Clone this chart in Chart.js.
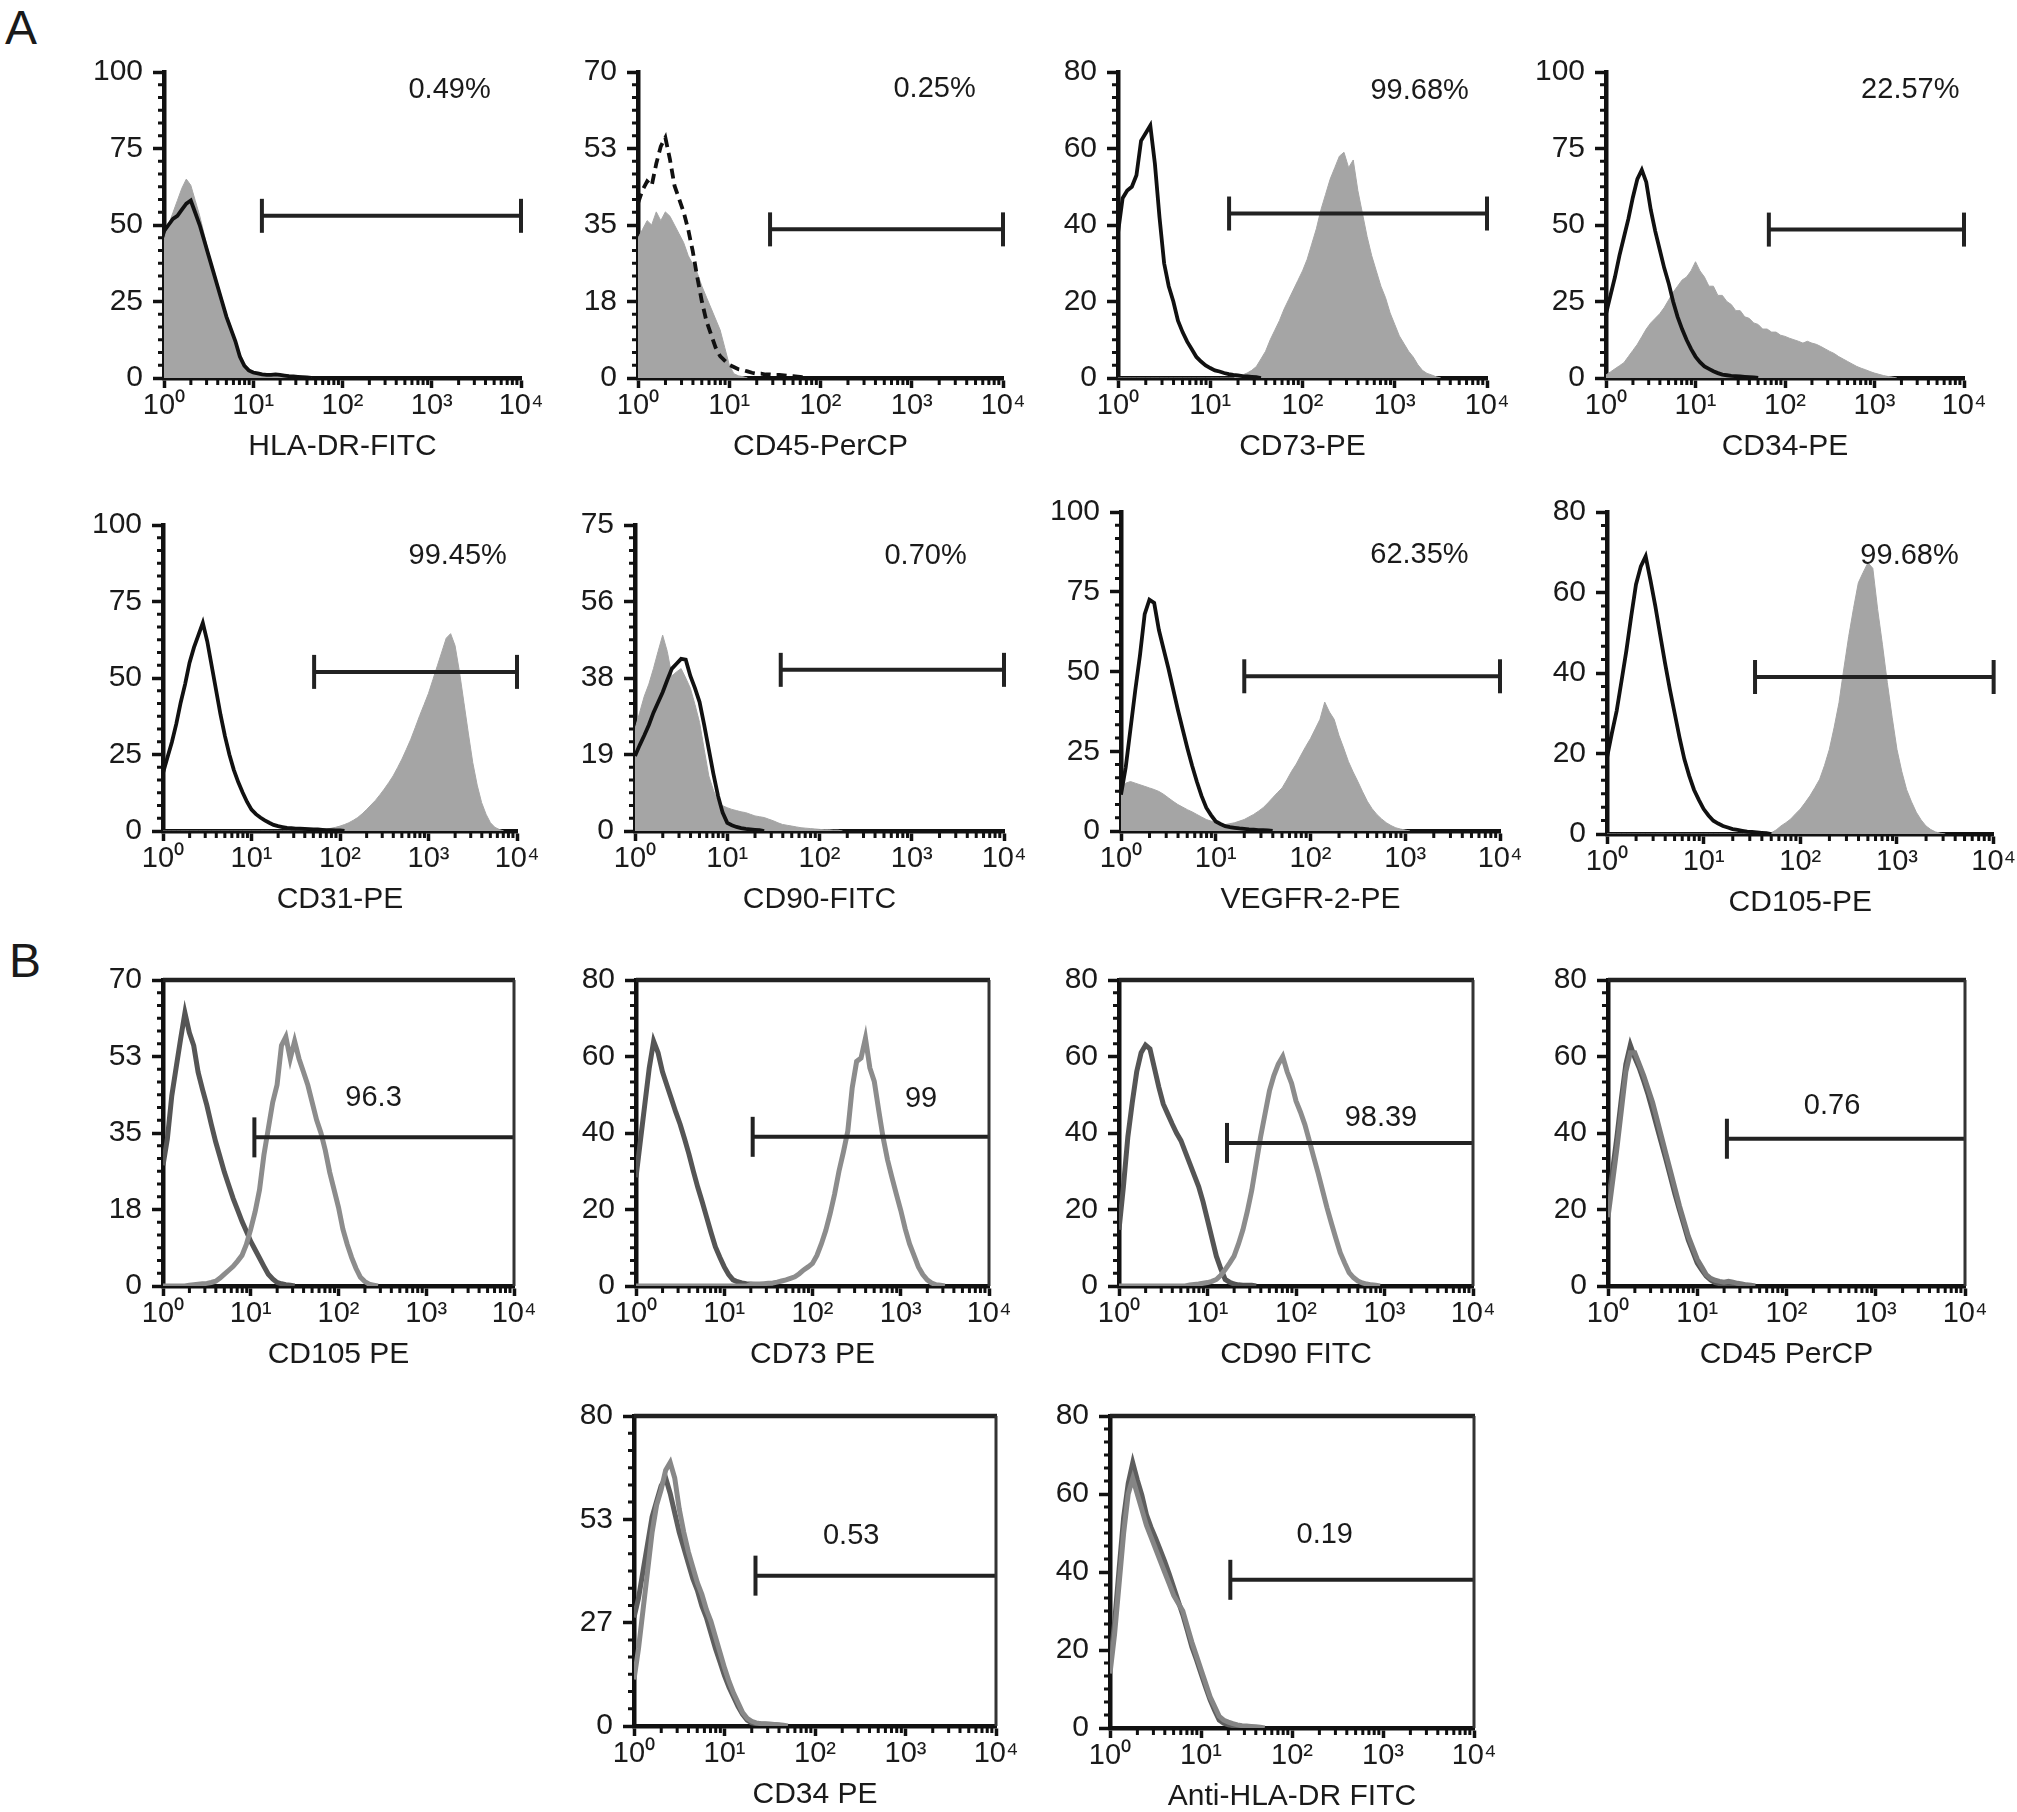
<!DOCTYPE html>
<html>
<head>
<meta charset="utf-8">
<title>Flow cytometry histograms</title>
<script src="https://cdn.jsdelivr.net/npm/chart.js@4.4.1/dist/chart.umd.min.js"></script>
<style>
  html, body { margin: 0; padding: 0; background: #fff; overflow: hidden; }
  body { width: 2017px; height: 1812px; position: relative; font-family: 'Liberation Sans', Arial, sans-serif; }
  .letter { position: absolute; font-size: 48px; line-height: 1; color: #1a1a1a; }
  canvas { position: absolute; }
</style>
</head>
<body>
<div class="letter" style="left:5px; top:4px;">A</div>
<div class="letter" style="left:9px; top:937px;">B</div>
<script>
// fluorescence channels (log spaced, 20 per decade)
const xGrid = [1, 1.122, 1.259, 1.413, 1.585, 1.778, 1.995, 2.239, 2.512, 2.818,
  3.162, 3.548, 3.981, 4.467, 5.012, 5.623, 6.31, 7.079, 7.943, 8.913,
  10, 11.22, 12.59, 14.13, 15.85, 17.78, 19.95, 22.39, 25.12, 28.18,
  31.62, 35.48, 39.81, 44.67, 50.12, 56.23, 63.1, 70.79, 79.43, 89.13,
  100, 112.2, 125.9, 141.3, 158.5, 177.8, 199.5, 223.9, 251.2, 281.8,
  316.2, 354.8, 398.1, 446.7, 501.2, 562.3, 631, 707.9, 794.3, 891.3,
  1000, 1122, 1259, 1413, 1585, 1778, 1995, 2239, 2512, 2818,
  3162, 3548, 3981, 4467, 5012, 5623, 6310, 7079, 7943, 8913, 10000];
const xTickValues = [1, 10, 100, 1000, 10000];
const xTickLabels = ['10⁰', '10¹', '10²', '10³', '10⁴'];

const ticks100 = [0, 25, 50, 75, 100];
const ticks80 = [0, 20, 40, 60, 80];
const ticks75 = [0, 19, 38, 56, 75];
const ticks70 = [0, 18, 35, 53, 70];
const ticks80b = [0, 27, 53, 80];

// panel A: isotype (black line) and stained cells (grey fill)
const hlaDrIsoA = [48,50,52,53,55,57,58,54,50,45, 40,35,30,25,20,16,12,7,4,2.5,
  1.8,1.5,1.2,1,1,1.2,1,0.8,0.6,0.5, 0.4,0.3,0.2,0];
const hlaDrCellsA = [45,50,54,58,62,65,63,58,53,47, 41,36,31,26,21,17,12,8,5,3,
  2,1.5,1.2,1,1.1,1.3,1.1,0.9,0.7,0.5, 0.4,0.3,0.2,0];
const cd45IsoA = [40,43,45,44,49,53,55,50,44,41, 38,34,29,23,17.5,13,10,7,5,4,
  3,2.5,2,1.8,1.5,1.2,1,1,0.8,0.8, 0.7,0.7,0.6,0.5,0.4,0.3,0.2,0];
const cd45CellsA = [32,34,36,35,38,36,38,37,35,33, 31,28,26,24,21,18.5,16,13.5,11,7,
  3,1,0.5,0.3,0];
const cd73IsoA = [38,47,49,50,53,62,64,66,56,42, 30,24,20,15,12,9.5,7.5,5.5,4.3,3.3,
  2.6,2,1.7,1.3,1,0.8,0.7,0.5,0.4,0.3, 0.2,0];
const cd73CellsA = [0,0,0,0,0,0,0,0,0,0, 0,0,0,0,0,0,0,0,0,0,
  0,0,0,0,0,0,0.3,0.8,1.3,2, 3,5,7,10,12.5,15,18,20.5,23,25.5,
  28,31,35,39,44,48,52,55,58,59, 55,57,49,43,37,32,28,24,21,17,
  14,11,9,7,5.5,3.5,2,1.2,0.8,0.3, 0];
const cd34IsoA = [21,27,33,40,46,52,59,65,68,64, 55,48,42,36,31,25,20,16,12.5,9.5,
  7,5.2,3.8,3,2.2,1.6,1.1,0.9,0.7,0.6, 0.5,0.4,0.3,0.2,0];
const cd34CellsA = [1,2,3,4,5,7,9,11,13.5,16, 18,19.5,21,23,25.5,28,30,32,33,35,
  38,35,33,30,30,27,27,25,24,22, 22,20,19.5,18,17.5,16,16,15,15,14,
  13.6,13,12.5,12,11.4,12,11.4,11,10.3,9.5, 8.7,8,7,6.2,5.4,4.6,3.8,3.2,2.7,2.1,
  1.6,1.2,0.8,0.5,0.3,0];
const cd31IsoA = [19,24,29,35,42,48,55,60,64,68, 62,54,46,38,31,25,20,16,12.6,9.5,
  7,5.5,4.4,3.5,2.7,2,1.6,1.3,1,0.9, 0.8,0.8,0.7,0.6,0.5,0.5,0.4,0.3,0.3,0.2,
  0.2,0];
const cd31CellsA = [0,0,0,0,0,0,0,0,0,0, 0,0,0,0,0,0,0,0,0,0,
  0,0,0,0,0,0,0,0,0,0, 0,0,0,0,0,0,0.3,0.6,0.9,1.2,
  1.6,2.1,2.7,3.5,4.4,5.6,7,8.5,10,11.8, 13.7,15.8,18,20.7,23.5,26.7,30,33.8,37.7,41.3,
  45,49.5,54,58.5,63,64.5,60.6,52,42,32, 22.4,15,9.3,5.5,2.7,1.2,0.5,0];
const cd90IsoA = [18.4,21,23.4,26,29,31.5,34,37,39.8,41, 42.2,42,38,35,31.6,26,20,14,8.6,4.5,
  2,1.4,1,0.7,0.5,0.4,0.3,0.2,0];
const cd90CellsA = [25,29,33,36,39.8,44,48,44,38,39, 39.8,37.5,35,31,26.6,20,13.5,10,7,6.2,
  5.7,5.3,5,4.7,4.5,4.1,3.7,3.5,3.3,2.9, 2.5,2,1.6,1.4,1.2,1,0.8,0.7,0.6,0.5,
  0.4,0.3,0.3,0.2,0.2,0];
const vegfr2IsoA = [11.4,20,32,44,55,68,72.5,71.5,63,57, 51,44.5,38,32,26,20.5,15.5,11,7.3,5,
  3,2.2,1.5,1.2,1,0.8,0.7,0.5,0.4,0.3, 0.3,0.2,0];
const vegfr2CellsA = [13.5,15,15.5,15,14.5,14,13.5,13,12.4,11.5, 10.4,9.3,8.3,7.5,6.7,6,5.2,4.4,3.6,3.1,
  2.6,2.3,2,2.3,2.6,3.1,3.6,4.4,5.2,6.2, 7.3,8.8,10.4,12,13.5,16,18.7,21,23.8,26.5,
  29,32,35,40.4,37.3,35,30,26,21.8,18.5, 15.5,12.3,9.3,7,5.2,3.8,2.6,1.7,1,0.6,
  0.3,0];
const cd105IsoA = [19,25,30.6,38,45.5,54,62,66.5,69,63, 56.6,49.5,42.5,36,30,24,18.6,14.5,11,8.5,
  6.2,4.6,3.3,2.6,2,1.6,1.2,1,0.8,0.6, 0.5,0.4,0.3,0.2,0];
const cd105CellsA = [0,0,0,0,0,0,0,0,0,0, 0,0,0,0,0,0,0,0,0,0,
  0,0,0,0,0,0,0,0,0,0, 0,0,0,0,0.3,1,2,2.8,3.7,5,
  6.2,7.8,9.5,11.5,13.6,17,21,26.5,32.6,41, 49,56,62.4,65,67.4,66,55.8,47,37.6,29,
  21,15.5,11,8,5.4,3.5,2,1.1,0.5,0.2, 0];

// panel B: control (dark line) and marker (light line)
const cd105IsoB = [27.6,33.7,43.5,50,56.4,62.5,58,55,48.9,45, 41.3,37,33,29.5,26,23,20,17.4,14.8,12.5,
  10.2,8.3,6.4,4.5,2.7,1.6,0.8,0.5,0.3,0.2, 0];
const cd105CellsB = [0,0,0,0,0,0,0.2,0.3,0.4,0.5, 0.6,0.8,1.1,1.8,2.7,3.6,4.5,5.7,7,9.5,
  13,17,22,30,36,42,46,55,57,52, 56,52,49,46,42,38,35,31,26,22,
  18,13,9.5,6.5,4,2,1,0.4,0.2,0];
const cd73IsoB = [28.4,38,47.5,57,64,61,56,52.5,49,45.5, 42.3,38.5,34.5,30,25.8,22,18,14,10.2,7.5,
  5,3,1.6,1.1,0.8,0.6,0.5,0.4,0.3,0.3, 0.2,0];
const cd73CellsB = [0,0,0,0,0,0,0,0,0,0, 0,0,0,0,0,0,0,0,0,0,
  0,0,0,0,0,0,0.4,0.5,0.5,0.6, 0.7,0.8,1,1.3,1.6,2,2.4,3.2,4.2,5,
  5.9,8,11,14.5,18.9,24,30,35,40.5,51.8, 58.7,59.6,64.8,57,53.5,46,38.8,33,28.4,24,
  19.8,15,11,8,5,3,1.6,0.8,0.3,0.2, 0];
const cd90IsoB = [14.7,26,39,48,56,61,63,62,57,52, 47.6,45,42.4,40,38,35,32,29,26,22,
  17.3,12.5,7.8,4.5,1.7,1,0.5,0.3,0.2,0.2, 0.2,0];
const cd90CellsB = [0,0,0,0,0,0,0,0,0,0, 0,0,0,0,0,0,0.3,0.4,0.5,0.7,
  0.9,1.2,1.7,2.8,4.3,6,7.8,11,14.7,19.5, 25,32,39,45,51,55,58,60,56,53,
  48.4,45.5,42.2,38,33.7,29.5,25,20.5,16.4,12.5, 8.7,6,3.5,2.2,1.3,0.8,0.5,0.3,0.2,0];
const cd45IsoB = [21.6,30,39,49,58,63,59.7,57,53.6,50, 45.8,41.5,37.2,33,28.5,24,19.9,16,12,9,
  6,4.2,2.6,1.6,0.9,0.6,0.5,0.4,0.3,0.2, 0];
const cd45CellsB = [18,27,36,46,56,61,61,58,55,51.5, 48,43.5,39,34.5,30,25.5,21,17,13,10,
  7,5,3,2,1.5,1.2,1,1.2,1,0.7, 0.5,0.3,0.2,0];
const cd34IsoB = [28,33,40,47,54,58,62,64,60,55, 50,46,42,38,35,31,28,24,20,16.5,
  13,10,7.5,5,3,1.5,0.8,0.6,0.5,0.5, 0.4,0.3,0.2,0];
const cd34CellsB = [12,20,30,40,50,57,61,66,68,64, 56,50,45,41,37,34,30,27,23,19,
  15,11.5,8.5,6,3.5,2,1.2,0.8,0.6,0.5, 0.5,0.4,0.3,0.2,0];
const hlaDrIsoB = [16,27,40.7,54,62.7,68,63.6,59.7,54.7,51.5, 48.7,45.8,42.8,39.5,36,32.5,29,25,20.8,17.5,
  14,10.5,7.2,4.5,2,1.2,0.8,0.6,0.5,0.4, 0.3,0.2,0];
const hlaDrCellsB = [14,24,37,50,60,64,60,56,52,49, 46,43,40,37,34,32,30,26,22,18.5,
  15,11.5,8,5.5,3,2,1.5,1.1,0.8,0.6, 0.5,0.4,0.3,0.2,0];

const titles = ['HLA-DR-FITC', 'CD45-PerCP', 'CD73-PE', 'CD34-PE', 'CD31-PE', 'CD90-FITC', 'VEGFR-2-PE', 'CD105-PE',
  'CD105 PE', 'CD73 PE', 'CD90 FITC', 'CD45 PerCP', 'CD34 PE', 'Anti-HLA-DR FITC'];
const percents = ['0.49%', '0.25%', '99.68%', '22.57%', '99.45%', '0.70%', '62.35%', '99.68%',
  '96.3', '99', '98.39', '0.76', '0.53', '0.19'];
const percentAtX = [1585, 1778, 1862, 2512, 2138, 1413, 1413, 1349, 251, 1700, 912, 324, 251, 229];
const percentAtY = [94, 66, 75, 94, 90, 67.5, 86.4, 69, 43, 49, 44, 47, 49, 49.5];
const gateFrom = [12.5, 28, 16, 66, 51, 38, 20, 34, 11, 21, 16.6, 21.5, 22, 21];
const gateLevel = [53, 34, 43, 48.5, 52, 39.5, 48.5, 39, 34, 39, 37.4, 38.5, 38.8, 38];
const yTickSets = [ticks100, ticks70, ticks80, ticks100, ticks100, ticks75, ticks100, ticks80,
  ticks70, ticks80, ticks80, ticks80, ticks80b, ticks80];
const controls = [hlaDrIsoA, cd45IsoA, cd73IsoA, cd34IsoA, cd31IsoA, cd90IsoA, vegfr2IsoA, cd105IsoA,
  cd105IsoB, cd73IsoB, cd90IsoB, cd45IsoB, cd34IsoB, hlaDrIsoB];
const samples = [hlaDrCellsA, cd45CellsA, cd73CellsA, cd34CellsA, cd31CellsA, cd90CellsA, vegfr2CellsA, cd105CellsA,
  cd105CellsB, cd73CellsB, cd90CellsB, cd45CellsB, cd34CellsB, hlaDrCellsB];

// plot area of each panel on the page: left, right, top, bottom
const boxes = [
  [164, 521, 68, 378], [638, 1003, 68, 378], [1118, 1487, 68, 378], [1606, 1964, 68, 378],
  [163, 517, 521, 831], [635, 1004, 521, 831], [1121, 1500, 508, 831], [1607, 1996, 508, 834],
  [163, 514, 976, 1286], [636, 989, 976, 1286], [1119, 1473, 976, 1286], [1608, 1965, 976, 1286],
  [634, 996, 1412, 1726], [1110, 1474, 1412, 1728]
];
const controlDash = [[], [10, 6], [], [], [], [], [], []];
const bColors = [['#555', '#8c8c8c'], ['#555', '#8c8c8c'], ['#555', '#8c8c8c'],
  ['#575757', '#7a7a7a'], ['#5e5e5e', '#888'], ['#5e5e5e', '#858585']];

const Y_W = 80, PAD_T = 24, PAD_R = 36, X_H = 87;
const FONT = "'Liberation Sans', Arial, sans-serif";
Chart.defaults.font.family = FONT;
Chart.defaults.color = '#1a1a1a';

const toPoints = (values) => values.map((v, i) => ({ x: xGrid[i], y: v }));

// minor ticks, frame of panel B and the percentage label
const decor = {
  id: 'decor',
  afterDraw(chart, args, opts) {
    const { ctx, chartArea: a, scales: { x, y } } = chart;
    ctx.save();
    ctx.strokeStyle = '#111';
    ctx.lineWidth = 3;
    ctx.beginPath();
    for (let d = 1; d < 10000; d *= 10) {
      for (let k = 2; k < 10; k++) {
        const px = x.getPixelForValue(k * d);
        ctx.moveTo(px, a.bottom);
        ctx.lineTo(px, a.bottom + 7);
      }
    }
    const yt = y.ticks;
    for (let i = 0; i < yt.length - 1; i++) {
      for (let j = 1; j < 6; j++) {
        const py = y.getPixelForValue(yt[i].value + (yt[i + 1].value - yt[i].value) * j / 6);
        ctx.moveTo(a.left - 6, py);
        ctx.lineTo(a.left, py);
      }
    }
    ctx.stroke();
    if (opts.frame) {
      ctx.strokeStyle = '#222';
      ctx.lineWidth = 4.5;
      ctx.beginPath();
      ctx.moveTo(a.left, a.top);
      ctx.lineTo(a.right + 1, a.top);
      ctx.stroke();
      ctx.strokeStyle = '#333';
      ctx.lineWidth = 3;
      ctx.beginPath();
      ctx.moveTo(a.right, a.top);
      ctx.lineTo(a.right, a.bottom);
      ctx.stroke();
    }
    ctx.fillStyle = '#1a1a1a';
    ctx.font = '29px ' + FONT;
    ctx.textAlign = 'center';
    ctx.textBaseline = 'middle';
    ctx.fillText(opts.text, x.getPixelForValue(opts.atX), y.getPixelForValue(opts.atY));
    ctx.restore();
  }
};

boxes.forEach((b, i) => {
  const [L, R, T, B] = b;
  const isA = i < 8;
  const padR = Math.min(PAD_R, 2017 - R);
  const canvas = document.createElement('canvas');
  const w = R - L + Y_W + padR, h = B - T + PAD_T + X_H;
  canvas.width = w;
  canvas.height = h;
  canvas.style.left = (L - Y_W) + 'px';
  canvas.style.top = (T - PAD_T) + 'px';
  canvas.style.width = w + 'px';
  canvas.style.height = h + 'px';
  document.body.appendChild(canvas);

  const yt = yTickSets[i];
  const yMax = yt[yt.length - 1];

  const gate = {
    data: [{ x: gateFrom[i], y: gateLevel[i] }, { x: 10000, y: gateLevel[i] }],
    borderColor: '#222', borderWidth: 4, fill: false, clip: false,
    pointStyle: 'line', pointRotation: 90, pointRadius: isA ? [17, 17] : [20, 0],
    pointBorderWidth: 4, pointBorderColor: '#222'
  };
  let datasets;
  if (isA) {
    datasets = [gate,
      { data: toPoints(controls[i]), borderColor: '#111', borderWidth: 3.8, borderDash: controlDash[i],
        fill: false, pointRadius: 0, tension: 0 },
      { data: toPoints(samples[i]), borderColor: '#a5a5a5', backgroundColor: '#a5a5a5', borderWidth: 1,
        fill: 'origin', pointRadius: 0, tension: 0 }];
  } else {
    const [dark, light] = bColors[i - 8];
    datasets = [gate,
      { data: toPoints(samples[i]), borderColor: light, borderWidth: 5, fill: false, pointRadius: 0, tension: 0 },
      { data: toPoints(controls[i]), borderColor: dark, borderWidth: 5, fill: false, pointRadius: 0, tension: 0 }];
  }

  new Chart(canvas, {
    type: 'line',
    data: { datasets },
    plugins: [decor],
    options: {
      responsive: false,
      animation: false,
      events: [],
      layout: { padding: { top: PAD_T, right: padR, left: 0, bottom: 0 } },
      plugins: {
        legend: { display: false },
        tooltip: { enabled: false },
        decor: { text: percents[i], atX: percentAtX[i], atY: percentAtY[i], frame: !isA }
      },
      scales: {
        x: {
          type: 'logarithmic', min: 1, max: 10000,
          afterBuildTicks: (s) => { s.ticks = xTickValues.map(v => ({ value: v })); },
          afterFit: (s) => { s.height = X_H; },
          ticks: { callback: (v, j) => xTickLabels[j], font: { size: 29 }, padding: 1, maxRotation: 0, autoSkip: false },
          grid: { drawOnChartArea: false, tickLength: 10, tickWidth: 3.5, tickColor: '#111' },
          border: { color: '#111', width: 4.5 },
          title: { display: true, text: titles[i], font: { size: 30 }, padding: 0 }
        },
        y: {
          type: 'linear', min: 0, max: yMax,
          afterBuildTicks: (s) => { s.ticks = yt.map((_, j) => ({ value: yMax * j / (yt.length - 1) })); },
          afterFit: (s) => { s.width = Y_W; },
          ticks: { callback: (v, j) => yt[j], font: { size: 30 }, padding: 10, autoSkip: false },
          grid: { drawOnChartArea: false, tickLength: 11, tickWidth: 3.5, tickColor: '#111' },
          border: { color: '#111', width: 4.5 }
        }
      }
    }
  });
});
</script>
</body>
</html>
